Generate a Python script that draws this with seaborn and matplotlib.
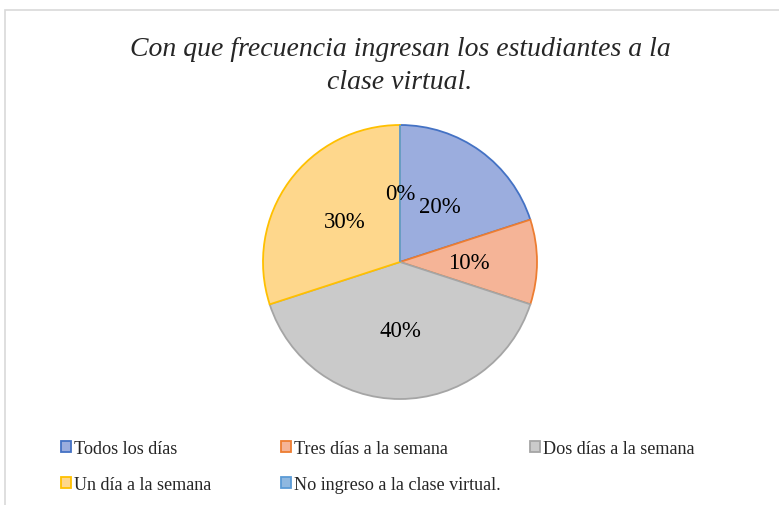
import matplotlib
matplotlib.use("Agg")
import matplotlib.pyplot as plt
import seaborn as sns
from matplotlib.patches import Rectangle

categories = ["Todos los días", "Tres días a la semana", "Dos días a la semana",
              "Un día a la semana", "No ingreso a la clase virtual."]
values = [20, 10, 40, 30, 0]
face_colors = ["#9BADDE", "#F5B497", "#CACACA", "#FED78C", "#8FB8E0"]
edge_colors = ["#4472C4", "#ED7D31", "#A5A5A5", "#FFC000", "#5B9BD5"]
title = "Con que frecuencia ingresan los estudiantes a la\nclase virtual."

sns.set_theme(style="white")
plt.rcParams["font.family"] = ["Liberation Serif", "DejaVu Serif"]

W, H = 779, 506
fig = plt.figure(figsize=(W / 100, H / 100), dpi=100)
fig.patch.set_facecolor("white")

# chart frame
fig.add_artist(Rectangle((5 / W, -0.05), 1.2, 1 - 11 / H + 0.05, transform=fig.transFigure,
                         fill=False, edgecolor="#D9D9D9", linewidth=1.2, clip_on=False))

cx, cy, r = 400, 263, 137
ax = fig.add_axes([(cx - r) / W, (H - cy - r) / H, 2 * r / W, 2 * r / H])
wedges, texts, autotexts = ax.pie(
    values, startangle=90, counterclock=False, colors=face_colors,
    autopct=lambda p: f"{p:.0f}%", pctdistance=0.5,
    wedgeprops=dict(linewidth=1.3),
    textprops=dict(fontsize=16.5, color="black"))
for w, ec in zip(wedges, edge_colors):
    w.set_edgecolor(ec)
ax.set_xlim(-1, 1)
ax.set_ylim(-1, 1)
ax.set_aspect("equal")
ax.axis("off")

fig.text(400 / W, 1 - 66 / H, title, ha="center", va="center", fontsize=20,
         style="italic", linespacing=1.45)

# legend columns (Excel fixed-width layout)
col_x = [54, 274, 523]
cols = [[0, 3], [1, 4], [2]]
for x, idx in zip(col_x, cols):
    leg = fig.legend([wedges[i] for i in idx], [categories[i] for i in idx],
                     loc="upper left", bbox_to_anchor=(x / W, 1 - 434 / H),
                     frameon=False, fontsize=13.1, handlelength=0.55, handleheight=0.55,
                     handletextpad=0.15, labelspacing=1.05, borderaxespad=0)

fig.savefig("out.png", dpi=100, facecolor="white")
